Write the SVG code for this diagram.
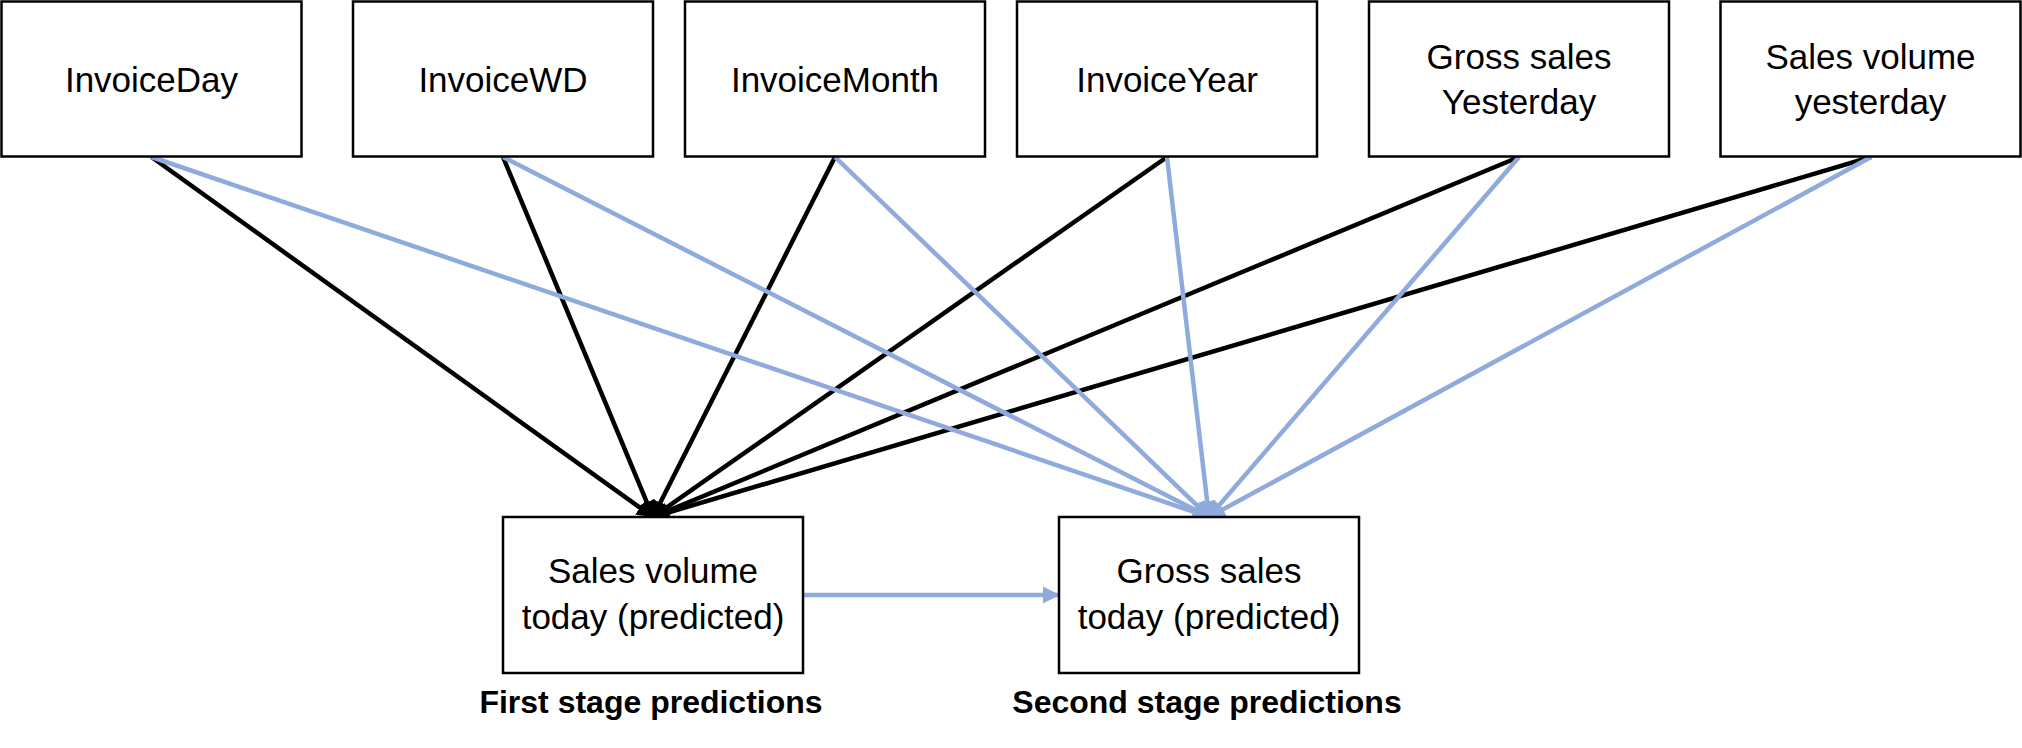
<svg xmlns="http://www.w3.org/2000/svg" width="2022" height="748" viewBox="0 0 2022 748">
<style>
.box{fill:#fff;stroke:#000;stroke-width:2.5}
.lbl{font-family:"Liberation Sans",Arial,sans-serif;font-size:35px;fill:#000;text-anchor:middle}
.cap{font-family:"Liberation Sans",Arial,sans-serif;font-size:32px;font-weight:bold;fill:#000;text-anchor:middle}
.k{stroke:#000;stroke-width:4.5;fill:none}
.b{stroke:#8FAADC;stroke-width:4.5;fill:none}
</style>
<defs>
<marker id="ak" markerUnits="userSpaceOnUse" markerWidth="18" markerHeight="18" refX="16" refY="8.5" orient="auto"><path d="M0,0 L17,8.5 L0,17 z" fill="#000"/></marker>
<marker id="ab" markerUnits="userSpaceOnUse" markerWidth="18" markerHeight="18" refX="16" refY="8.5" orient="auto"><path d="M0,0 L17,8.5 L0,17 z" fill="#8FAADC"/></marker>
</defs>
<rect width="2022" height="748" fill="#fff"/>
<g id="connectors">
<line class="k" x1="151.5" y1="157" x2="653" y2="517" marker-end="url(#ak)"/>
<line class="k" x1="503" y1="157" x2="653" y2="517" marker-end="url(#ak)"/>
<line class="k" x1="835" y1="157" x2="653" y2="517" marker-end="url(#ak)"/>
<line class="k" x1="1167" y1="157" x2="653" y2="517" marker-end="url(#ak)"/>
<line class="k" x1="1519" y1="157" x2="653" y2="517" marker-end="url(#ak)"/>
<line class="k" x1="1871" y1="157" x2="653" y2="517" marker-end="url(#ak)"/>
<line class="b" x1="151.5" y1="157" x2="1209" y2="517" marker-end="url(#ab)"/>
<line class="b" x1="503" y1="157" x2="1209" y2="517" marker-end="url(#ab)"/>
<line class="b" x1="835" y1="157" x2="1209" y2="517" marker-end="url(#ab)"/>
<line class="b" x1="1167" y1="157" x2="1209" y2="517" marker-end="url(#ab)"/>
<line class="b" x1="1519" y1="157" x2="1209" y2="517" marker-end="url(#ab)"/>
<line class="b" x1="1871" y1="157" x2="1209" y2="517" marker-end="url(#ab)"/>
<line class="b" x1="803" y1="595" x2="1059" y2="595" marker-end="url(#ab)"/>
</g>
<g id="n1"><rect class="box" x="1.5" y="1.5" width="300" height="155"/><text class="lbl" x="151.5" y="92">InvoiceDay</text></g>
<g id="n2"><rect class="box" x="353" y="1.5" width="300" height="155"/><text class="lbl" x="503" y="92">InvoiceWD</text></g>
<g id="n3"><rect class="box" x="685" y="1.5" width="300" height="155"/><text class="lbl" x="835" y="92">InvoiceMonth</text></g>
<g id="n4"><rect class="box" x="1017" y="1.5" width="300" height="155"/><text class="lbl" x="1167" y="92">InvoiceYear</text></g>
<g id="n5"><rect class="box" x="1369" y="1.5" width="300" height="155"/><text class="lbl" x="1519" y="69">Gross sales</text><text class="lbl" x="1519" y="114">Yesterday</text></g>
<g id="n6"><rect class="box" x="1720.5" y="1.5" width="300" height="155"/><text class="lbl" x="1870.5" y="69">Sales volume</text><text class="lbl" x="1870.5" y="114">yesterday</text></g>
<g id="n7"><rect class="box" x="503" y="517" width="300" height="156"/><text class="lbl" x="653" y="583">Sales volume</text><text class="lbl" x="653" y="629">today (predicted)</text></g>
<g id="n8"><rect class="box" x="1059" y="517" width="300" height="156"/><text class="lbl" x="1209" y="583">Gross sales</text><text class="lbl" x="1209" y="629">today (predicted)</text></g>
<g id="captions"><text class="cap" x="651" y="713">First stage predictions</text><text class="cap" x="1207" y="713">Second stage predictions</text></g>
</svg>
